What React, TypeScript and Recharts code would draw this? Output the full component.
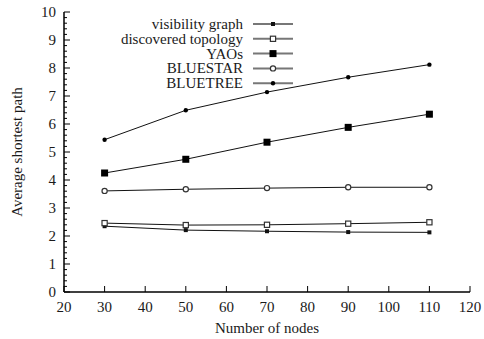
import React from "react";
import {
  LineChart,
  Line,
  XAxis,
  YAxis,
  Legend,
} from "recharts";

// x values (number of nodes) and series
const nodes = [30, 50, 70, 90, 110];
const visibilityGraph = [2.35, 2.21, 2.17, 2.14, 2.13];
const discoveredTopology = [2.46, 2.39, 2.4, 2.44, 2.49];
const yaos = [4.25, 4.74, 5.35, 5.88, 6.35];
const bluestar = [3.61, 3.67, 3.71, 3.74, 3.74];
const bluetree = [5.44, 6.49, 7.14, 7.67, 8.12];

const xTicks = [20, 30, 40, 50, 60, 70, 80, 90, 100, 110, 120];
const yTicks = [0, 1, 2, 3, 4, 5, 6, 7, 8, 9, 10];

// minor y ticks every 0.2
const yMinorTicks: number[] = [];
yTicks.forEach((t, i) => {
  yMinorTicks.push(t);
  if (i < yTicks.length - 1) {
    [0.2, 0.4, 0.6, 0.8].forEach((f) => yMinorTicks.push(Math.round((t + f) * 10) / 10));
  }
});

const data = nodes.map((n, i) => ({
  nodes: n,
  vis: visibilityGraph[i],
  disc: discoveredTopology[i],
  yaos: yaos[i],
  bluestar: bluestar[i],
  bluetree: bluetree[i],
}));

type MarkerKind = "smallSquare" | "openSquare" | "bigSquare" | "openCircle" | "dot";

const series: { key: string; name: string; marker: MarkerKind }[] = [
  { key: "vis", name: "visibility graph", marker: "smallSquare" },
  { key: "disc", name: "discovered topology", marker: "openSquare" },
  { key: "yaos", name: "YAOs", marker: "bigSquare" },
  { key: "bluestar", name: "BLUESTAR", marker: "openCircle" },
  { key: "bluetree", name: "BLUETREE", marker: "dot" },
];

const FONT = "'Liberation Serif', 'DejaVu Serif', serif";
const TEXT = "#1a1a1a";
const FS = 15;

const Marker = ({ kind, cx, cy }: { kind: MarkerKind; cx: number; cy: number }) => {
  switch (kind) {
    case "smallSquare":
      return <rect x={cx - 2} y={cy - 2} width={4} height={4} fill="#111" />;
    case "openSquare":
      return (
        <rect x={cx - 2.6} y={cy - 2.6} width={5.2} height={5.2} fill="#fff" stroke="#333" strokeWidth={1.2} />
      );
    case "bigSquare":
      return <rect x={cx - 3.5} y={cy - 3.5} width={7} height={7} fill="#000" />;
    case "openCircle":
      return <circle cx={cx} cy={cy} r={2.6} fill="#fff" stroke="#333" strokeWidth={1.2} />;
    default:
      return <circle cx={cx} cy={cy} r={2.2} fill="#000" />;
  }
};

const renderDot = (kind: MarkerKind) => (props: any) => {
  const { cx, cy, index } = props;
  if (cx == null || cy == null) return <g key={index} />;
  return <Marker key={index} kind={kind} cx={cx} cy={cy} />;
};

// inward tick marks; labels drawn only on the main axes
const BottomTick = (props: any) => {
  const { x, y, payload } = props;
  return (
    <g>
      <line x1={x} y1={y} x2={x} y2={y - 6} stroke="#000" />
      <text x={x} y={y + 20} textAnchor="middle" fontSize={FS} fontFamily={FONT} fill={TEXT}>
        {payload.value}
      </text>
    </g>
  );
};

const TopTick = (props: any) => {
  const { x, y } = props;
  return <line x1={x} y1={y} x2={x} y2={y + 6} stroke="#000" />;
};

const LeftTick = (props: any) => {
  const { x, y, payload } = props;
  const v = payload.value;
  const major = Number.isInteger(v);
  return (
    <g>
      <line x1={x} y1={y} x2={x + (major ? 6 : 3)} y2={y} stroke="#000" />
      {major && (
        <text x={x - 8} y={y + 5} textAnchor="end" fontSize={FS} fontFamily={FONT} fill={TEXT}>
          {v}
        </text>
      )}
    </g>
  );
};

const RightTick = (props: any) => {
  const { x, y, payload } = props;
  const major = Number.isInteger(payload.value);
  return <line x1={x} y1={y} x2={x - (major ? 6 : 3)} y2={y} stroke="#000" />;
};

const LegendBox = () => (
  <svg width={200} height={80} style={{ overflow: "visible", display: "block" }}>
    {series.map((s, i) => {
      const cy = 8 + i * 14.8;
      return (
        <g key={s.key}>
          <text x={143} y={cy + 5} textAnchor="end" fontSize={FS} fontFamily={FONT} fill={TEXT}>
            {s.name}
          </text>
          <line x1={153} y1={cy} x2={193} y2={cy} stroke="#777" strokeWidth={2} />
          <Marker kind={s.marker} cx={173} cy={cy} />
        </g>
      );
    })}
  </svg>
);

const App: React.FC = () => {
  return (
    <div style={{ position: "absolute", left: 0, top: 0, fontFamily: FONT }}>
      <LineChart
        width={484}
        height={339}
        data={data}
        margin={{ top: 12, right: 14, bottom: 0, left: 0 }}
      >
        <XAxis
          dataKey="nodes"
          type="number"
          domain={[20, 120]}
          ticks={xTicks}
          interval={0}
          height={47}
          tickSize={0}
          tickMargin={0}
          tick={<BottomTick />}
          axisLine={{ stroke: "#000", strokeWidth: 1.5 }}
          tickLine={false}
          label={{
            value: "Number of nodes",
            position: "insideBottom",
            offset: 6,
            fontSize: FS,
            fill: TEXT,
            fontFamily: FONT,
          }}
        />
        <XAxis
          xAxisId="top"
          dataKey="nodes"
          orientation="top"
          type="number"
          domain={[20, 120]}
          ticks={xTicks}
          interval={0}
          height={0}
          tickSize={0}
          tickMargin={0}
          tick={<TopTick />}
          axisLine={{ stroke: "#000", strokeWidth: 1.5 }}
          tickLine={false}
        />
        <YAxis
          yAxisId="left"
          type="number"
          domain={[0, 10]}
          ticks={yMinorTicks}
          interval={0}
          width={64}
          tickSize={0}
          tickMargin={0}
          tick={<LeftTick />}
          axisLine={{ stroke: "#000", strokeWidth: 1.5 }}
          tickLine={false}
          label={{
            value: "Average shortest path",
            angle: -90,
            position: "insideLeft",
            offset: 17,
            fontSize: FS,
            fill: TEXT,
            fontFamily: FONT,
            style: { textAnchor: "middle" },
          }}
        />
        <YAxis
          yAxisId="right"
          orientation="right"
          type="number"
          domain={[0, 10]}
          ticks={yMinorTicks}
          interval={0}
          width={0}
          tickSize={0}
          tickMargin={0}
          tick={<RightTick />}
          axisLine={{ stroke: "#000", strokeWidth: 1.5 }}
          tickLine={false}
        />
        <Legend
          layout="horizontal"
          verticalAlign="middle"
          align="center"
          content={<LegendBox />}
          wrapperStyle={{ position: "absolute", top: 16, left: 100, width: 200, height: 80 }}
        />
        {series.map((s) => (
          <Line
            key={s.key}
            yAxisId="left"
            dataKey={s.key}
            name={s.name}
            type="linear"
            stroke="#111"
            strokeWidth={1}
            dot={renderDot(s.marker)}
            activeDot={false}
            isAnimationActive={false}
          />
        ))}
      </LineChart>
    </div>
  );
};

export default App;
